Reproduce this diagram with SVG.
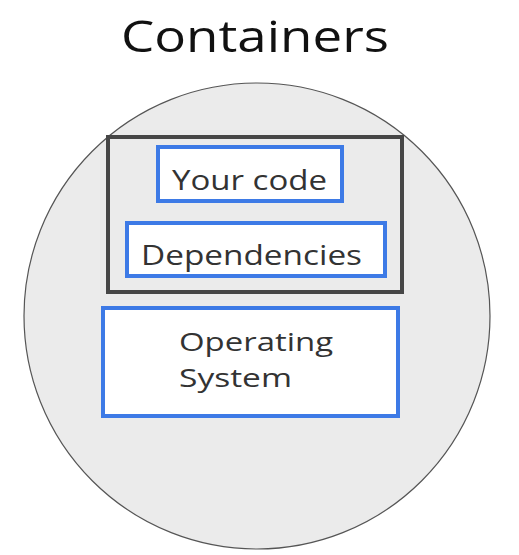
<svg xmlns="http://www.w3.org/2000/svg" width="519" height="555" viewBox="0 0 519 555">
<style>
.title{font-family:"Open Sans","Liberation Sans",sans-serif;font-size:44px;fill:#111}
.lbl{font-family:"Open Sans","Liberation Sans",sans-serif;font-size:28px;fill:#333}
.os{font-size:26px}
.box{fill:#fff;stroke:#3d7ae6;stroke-width:4}
</style>
<rect width="519" height="555" fill="#fff"/>
<text class="title" x="121" y="52" textLength="268" lengthAdjust="spacingAndGlyphs">Containers</text>
<g id="circle">
<circle cx="257" cy="316" r="233" fill="#ebebeb" stroke="#555" stroke-width="1.2"/>
</g>
<g id="container">
<rect x="108" y="137" width="294" height="155" fill="none" stroke="#464646" stroke-width="4"/>
</g>
<g id="your-code">
<rect class="box" x="158" y="147" width="184" height="54"/>
<text class="lbl" x="172" y="190" textLength="155" lengthAdjust="spacingAndGlyphs">Your code</text>
</g>
<g id="dependencies">
<rect class="box" x="127" y="223" width="258" height="53"/>
<text class="lbl" x="141" y="265" textLength="221" lengthAdjust="spacingAndGlyphs">Dependencies</text>
</g>
<g id="os">
<rect class="box" x="103" y="308" width="295" height="108"/>
<text class="lbl os" x="179" y="351" textLength="154" lengthAdjust="spacingAndGlyphs">Operating</text>
<text class="lbl os" x="179" y="387" textLength="113" lengthAdjust="spacingAndGlyphs">System</text>
</g>
<g id="connectors"/>
</svg>
